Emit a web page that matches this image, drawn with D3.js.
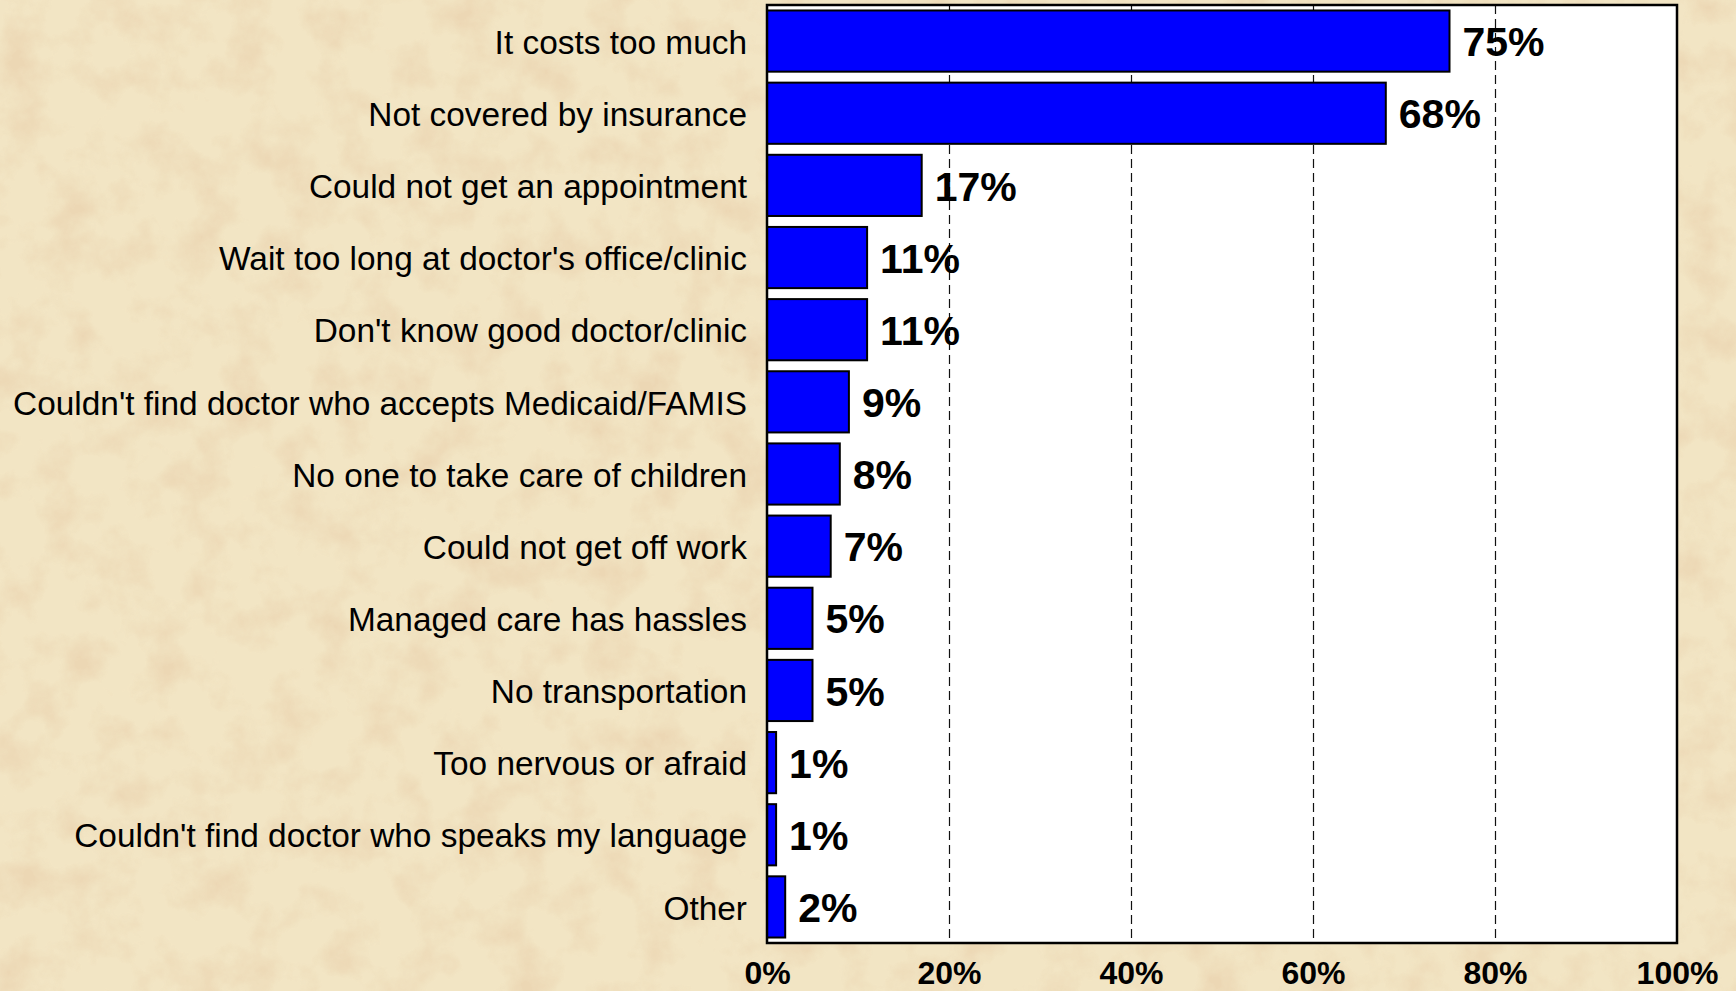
<!DOCTYPE html>
<html><head><meta charset="utf-8">
<script src="https://cdn.jsdelivr.net/npm/d3@7"></script>
<style>html,body{margin:0;padding:0;overflow:hidden;background:#ecdcb3}</style>
</head><body>
<script>
const categories = ["It costs too much","Not covered by insurance","Could not get an appointment","Wait too long at doctor's office/clinic","Don't know good doctor/clinic","Couldn't find doctor who accepts Medicaid/FAMIS","No one to take care of children","Could not get off work","Managed care has hassles","No transportation","Too nervous or afraid","Couldn't find doctor who speaks my language","Other"];
const values = [75,68,17,11,11,9,8,7,5,5,1,1,2];
const tickValues = [0,20,40,60,80,100];

const W=1736,H=991;
const FONT="'Liberation Sans', Arial, sans-serif";
const svg=d3.select("body").append("svg").attr("width",W).attr("height",H);
const defs=svg.append("defs");
const f=defs.append("filter").attr("id","paper").attr("x",0).attr("y",0).attr("width","100%").attr("height","100%");
f.append("feTurbulence").attr("type","fractalNoise").attr("baseFrequency","0.022").attr("numOctaves",5).attr("seed",11).attr("result","n");
f.append("feColorMatrix").attr("in","n").attr("type","matrix")
 .attr("values","0 0 0 0 0.82  0 0 0 0 0.64  0 0 0 0 0.42  0 0 0 -2.6 1.45").attr("result","c");
f.append("feComposite").attr("in","c").attr("in2","SourceGraphic").attr("operator","in");
svg.append("rect").attr("width",W).attr("height",H).attr("fill","#f2e5c4");
svg.append("rect").attr("width",W).attr("height",H).attr("fill","#fff").attr("filter","url(#paper)").attr("opacity",0.65);

const m={l:767,r:1677,t:5,b:943};
const x=d3.scaleLinear().domain([0,100]).range([m.l,m.r]);
const y=d3.scaleBand().domain(categories).range([m.t,m.b]).paddingInner(0.152).paddingOuter(0.076);

svg.append("rect").attr("x",m.l).attr("y",m.t).attr("width",m.r-m.l).attr("height",m.b-m.t).attr("fill","#fff");

// gridlines
svg.append("g").selectAll("line").data(tickValues.filter(d=>d>0&&d<100)).join("line")
 .attr("x1",d=>Math.round(x(d))+0.5).attr("x2",d=>Math.round(x(d))+0.5).attr("y1",m.t).attr("y2",m.b)
 .attr("stroke","#111").attr("stroke-width",1.2).attr("stroke-dasharray","9,5");

// bars
svg.append("g").selectAll("rect").data(values).join("rect")
 .attr("x",x(0)).attr("y",(d,i)=>y(categories[i])).attr("width",d=>x(d)-x(0)).attr("height",y.bandwidth())
 .attr("fill","#0000ff").attr("stroke","#000").attr("stroke-width",2);

// value labels
svg.append("g").selectAll("text").data(values).join("text")
 .attr("x",d=>x(d)+13).attr("y",(d,i)=>y(categories[i])+y.bandwidth()/2)
 .attr("dy","0.37em").attr("font-family",FONT).attr("font-weight","bold")
 .attr("font-size",41).attr("fill","#000").text(d=>d+"%");

// category labels
svg.append("g").selectAll("text").data(categories).join("text")
 .attr("x",747).attr("y",d=>y(d)+y.bandwidth()/2).attr("dy","0.38em").attr("text-anchor","end")
 .attr("font-family",FONT).attr("font-size",33.4).attr("fill","#000").text(d=>d);

// frame
svg.append("rect").attr("x",m.l).attr("y",m.t).attr("width",m.r-m.l).attr("height",m.b-m.t)
 .attr("fill","none").attr("stroke","#000").attr("stroke-width",2.5);

// x axis labels
const ax=svg.append("g").attr("transform",`translate(0,${m.b})`).call(d3.axisBottom(x).tickValues(tickValues).tickSize(0).tickFormat(d=>d+"%"));
ax.select(".domain").remove();
ax.selectAll("text").attr("font-family",FONT).attr("font-weight","bold").attr("font-size",32).attr("fill","#000").attr("y",41).attr("dy",0);
</script>
</body></html>
